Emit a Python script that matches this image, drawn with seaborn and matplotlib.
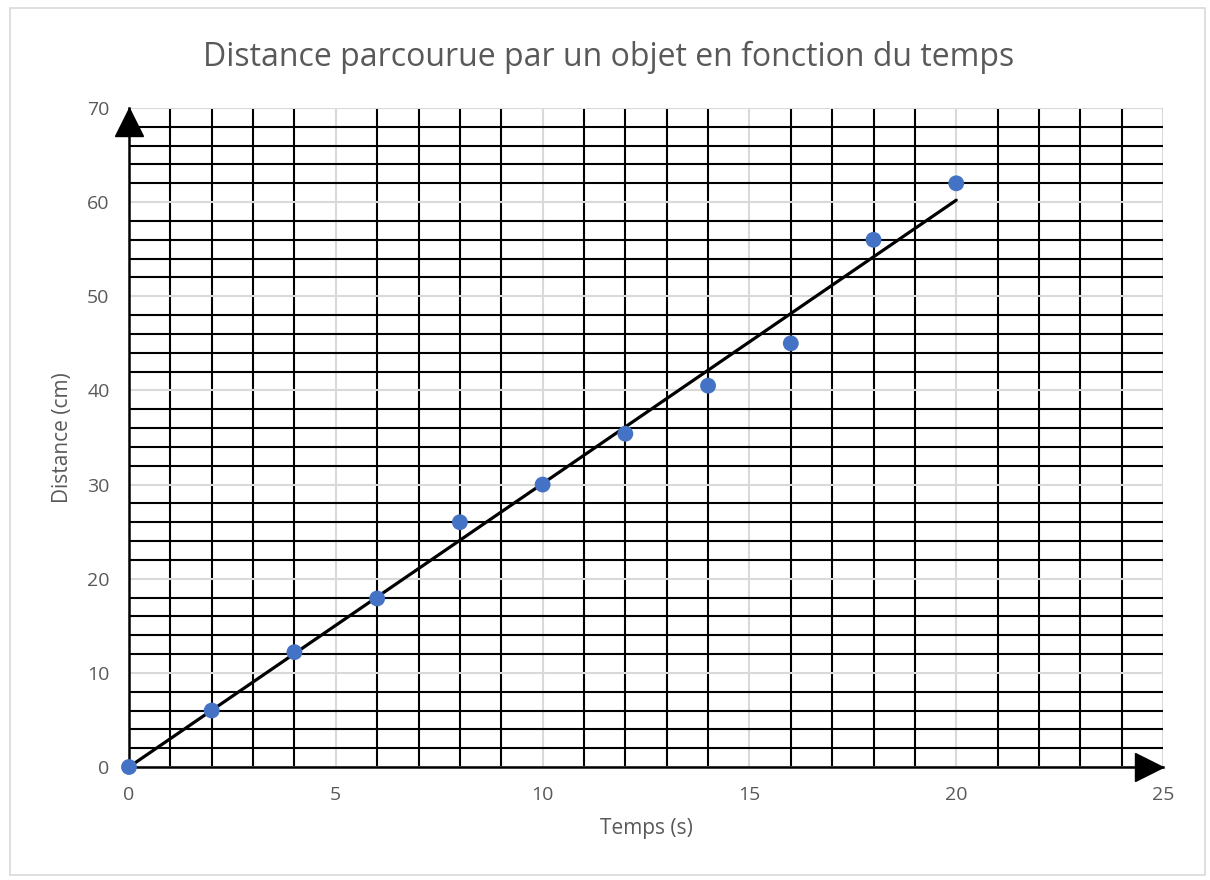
import matplotlib
matplotlib.use("Agg")
import matplotlib.pyplot as plt
from matplotlib.ticker import MultipleLocator
from matplotlib.patches import Rectangle
from matplotlib.transforms import offset_copy
import seaborn as sns
import numpy as np
import pandas as pd

# === Data ===
temps = [0, 2, 4, 6, 8, 10, 12, 14, 16, 18, 20]
distance = [0, 6, 12.2, 17.9, 26, 30, 35.4, 40.5, 45, 56, 62]

title = "Distance parcourue par un objet en fonction du temps"
xlabel = "Temps (s)"
ylabel = "Distance (cm)"

df = pd.DataFrame({"t": temps, "d": distance})

# linear trend forced through the origin (as Excel does with intercept = 0)
t = np.array(temps, dtype=float)
d = np.array(distance, dtype=float)
slope = (t * d).sum() / (t * t).sum()
trend = pd.DataFrame({"t": [t.min(), t.max()]})
trend["d"] = slope * trend["t"]

sns.set_style("white")
plt.rcParams["font.family"] = ["Open Sans", "DejaVu Sans"]

fig = plt.figure(figsize=(12.1, 8.8), dpi=100)
ax = fig.add_axes([0.1066, 0.1284, 0.8546, 0.7489])

# outer chart border
fig.patches.append(Rectangle((0.008, 0.006), 0.988, 0.985, transform=fig.transFigure,
                             fill=False, edgecolor="#D9D9D9", linewidth=1.2))

ax.set_xlim(0, 25)
ax.set_ylim(0, 70)
ax.xaxis.set_major_locator(MultipleLocator(5))
ax.xaxis.set_minor_locator(MultipleLocator(1))
ax.yaxis.set_major_locator(MultipleLocator(10))
ax.yaxis.set_minor_locator(MultipleLocator(2))
ax.grid(which="major", color="#D9D9D9", linewidth=1.5)
ax.grid(which="minor", color="black", linewidth=1.5)
ax.set_axisbelow(True)

for s in ["top", "right"]:
    ax.spines[s].set_visible(False)
for s in ["left", "bottom"]:
    ax.spines[s].set_color("black")
    ax.spines[s].set_linewidth(1.8)

ax.tick_params(which="major", direction="out", length=5, width=1.2, color="black",
               labelsize=14, labelcolor="#595959", pad=9)
ax.tick_params(which="minor", length=0)

sns.lineplot(data=trend, x="t", y="d", color="black", linewidth=2.3, ax=ax, zorder=3)
sns.scatterplot(data=df, x="t", y="d", color="#4472C4", s=130, edgecolor="none",
                ax=ax, zorder=4, clip_on=False)

# arrow heads on the axes, tips at the axis ends
ms = 20
up_tr = offset_copy(ax.transData, fig=fig, x=0, y=-ms * 0.5, units="points")
right_tr = offset_copy(ax.transData, fig=fig, x=-ms * 0.5, y=0, units="points")
ax.plot([0], [70], marker="^", markersize=ms, color="black", clip_on=False,
        zorder=5, transform=up_tr)
ax.plot([25], [0], marker=">", markersize=ms, color="black", clip_on=False,
        zorder=5, transform=right_tr)

ax.set_xlabel(xlabel, fontsize=15, color="#595959", labelpad=10)
ax.set_ylabel(ylabel, fontsize=15, color="#595959", labelpad=10)
fig.text(0.503, 0.935, title, ha="center", va="center", fontsize=23, color="#595959")

fig.savefig("out.png", dpi=100)
